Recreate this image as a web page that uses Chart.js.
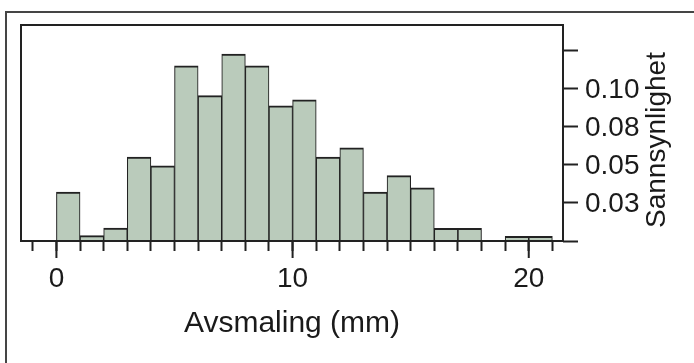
<!DOCTYPE html>
<html><head><meta charset="utf-8">
<script src="https://cdn.jsdelivr.net/npm/chart.js@4.4.1/dist/chart.umd.min.js"></script>
<style>
html,body{margin:0;padding:0;background:#fff;}
#wrap{position:relative;width:694px;height:363px;overflow:hidden;background:#fff;}
#frame{position:absolute;left:5px;top:11px;width:720px;height:420px;border-left:2px solid #454545;border-top:2px solid #454545;}
canvas{position:absolute;left:0;top:0;}
</style></head><body>
<div id="wrap"><div id="frame"></div><canvas id="c" width="694" height="363"></canvas></div>
<script>
// ---- data ----
const binStarts = [0,1,2,3,4,5,6,7,8,9,10,11,12,13,14,15,16,17,18,19,20];
const density   = [0.0321,0.0035,0.0085,0.0549,0.0493,0.1147,0.0952,0.1225,0.1147,0.0885,
                   0.0924,0.0549,0.0611,0.0321,0.0428,0.0349,0.0083,0.0083,0,0.0031,0.0031];
const xTickValues = [-1,0,1,2,3,4,5,6,7,8,9,10,11,12,13,14,15,16,17,18,19,20,21];
const xMajorTicks = [0,10,20];
const yTickValues = [0,0.025,0.05,0.075,0.1,0.125];
const yTickLabels = ['','0.03','0.05','0.08','0.10',''];
const xTitle = 'Avsmaling (mm)';
const yTitle = 'Sannsynlighet';

// ---- styles ----
const FONT = "'Liberation Sans', Arial, sans-serif";
const LINE = '#222222';
const TEXT = '#1a1a1a';
const FILL = '#bacbbb';

const decor = {
  id: 'decor',
  afterDatasetsDraw(chart) {
    const {ctx, chartArea: a, scales: {x, y}} = chart;
    ctx.save();
    ctx.strokeStyle = LINE;
    ctx.lineWidth = 2;
    ctx.strokeRect(a.left, a.top, a.right - a.left, a.bottom - a.top);
    ctx.beginPath();
    xMajorTicks.forEach(v => {
      const px = x.getPixelForValue(v);
      ctx.moveTo(px, a.bottom);
      ctx.lineTo(px, a.bottom + 17);
    });
    ctx.stroke();
    // right-side axis title, reading bottom to top
    ctx.fillStyle = TEXT;
    ctx.font = "28px " + FONT;
    ctx.textAlign = 'center';
    ctx.textBaseline = 'middle';
    ctx.translate(y.left + 94, (a.top + a.bottom) / 2 + 7);
    ctx.rotate(-Math.PI / 2);
    ctx.fillText(yTitle, 0, 0);
    ctx.restore();
  }
};

new Chart(document.getElementById('c'), {
  type: 'bar',
  data: {
    datasets: [{
      data: binStarts.map((s, i) => ({x: s + 0.5, y: density[i]})),
      backgroundColor: FILL,
      borderColor: LINE,
      borderWidth: {top: 2, left: 1.1, right: 1.1, bottom: 0},
      borderSkipped: 'start',
      barPercentage: 1,
      categoryPercentage: 1,
      grouped: false
    }]
  },
  options: {
    responsive: false,
    animation: false,
    devicePixelRatio: 1,
    layout: {padding: {left: 21, top: 25, right: 0, bottom: 0}},
    plugins: {legend: {display: false}, tooltip: {enabled: false}},
    scales: {
      x: {
        type: 'linear',
        position: 'bottom',
        min: -1.5, max: 21.45,
        offset: false,
        afterBuildTicks: s => { s.ticks = xTickValues.map(v => ({value: v})); },
        afterFit: s => { s.height = 122; },
        border: {display: false},
        grid: {display: true, drawOnChartArea: false, drawTicks: true, tickLength: 10,
               tickWidth: 2, tickColor: LINE, offset: false},
        ticks: {
          autoSkip: false, maxRotation: 0, padding: 11,
          color: TEXT, font: {family: FONT, size: 28},
          callback: v => xMajorTicks.includes(v) ? String(v) : ''
        },
        title: {display: true, text: xTitle, color: TEXT,
                font: {family: FONT, size: 30}, padding: {top: 0, bottom: 21}}
      },
      y: {
        type: 'linear',
        position: 'right',
        min: 0, max: 0.1415,
        afterBuildTicks: s => { s.ticks = yTickValues.map(v => ({value: v})); },
        afterFit: s => { s.width = 131; },
        border: {display: false},
        grid: {display: true, drawOnChartArea: false, drawTicks: true, tickLength: 15,
               tickWidth: 2, tickColor: LINE},
        ticks: {
          autoSkip: false, padding: 7, labelOffset: 1.5,
          color: TEXT, font: {family: FONT, size: 28},
          callback: (v, i) => yTickLabels[i]
        }
      }
    }
  },
  plugins: [decor]
});
</script>
</body></html>
